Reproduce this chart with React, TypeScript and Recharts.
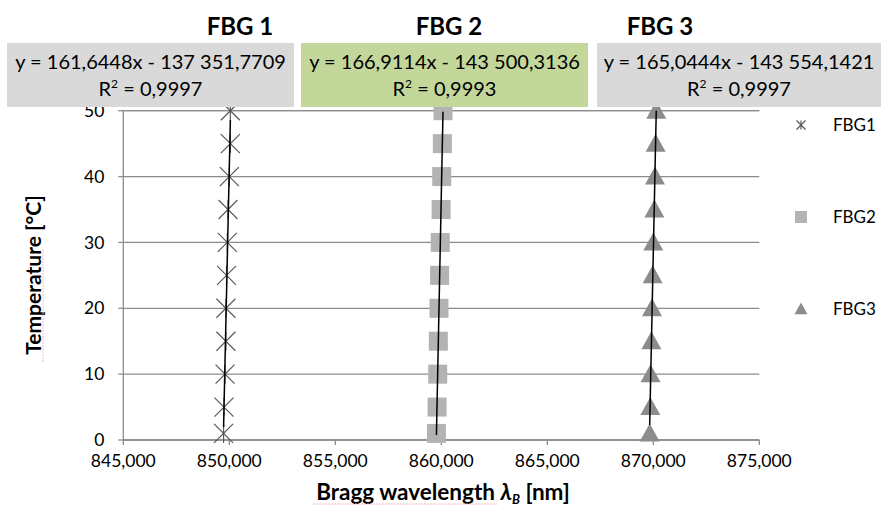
import { ScatterChart, Scatter, XAxis, YAxis, CartesianGrid } from "recharts"

// temperature steps [°C]
const temps = [1, 5, 10, 15, 20, 25, 30, 35, 40, 45, 50]
// Bragg wavelengths [nm]
const fbg1 = [849.73, 849.75, 849.8, 849.84, 849.84, 849.87, 849.905, 849.94, 850.0, 850.05, 850.05]
const fbg2 = [859.77, 859.8, 859.83, 859.86, 859.89, 859.92, 859.95, 859.99, 860.02, 860.05, 860.08]
const fbg3 = [869.83, 869.86, 869.87, 869.91, 869.94, 869.97, 870.0, 870.05, 870.08, 870.11, 870.14]

const xTicks = [845, 850, 855, 860, 865, 870, 875]
const yTicks = [0, 10, 20, 30, 40, 50]
const titles = ["FBG 1", "FBG 2", "FBG 3"]
const equations = ["y = 161,6448x - 137 351,7709", "y = 166,9114x - 143 500,3136", "y = 165,0444x - 143 554,1421"]
const r2 = ["0,9997", "0,9993", "0,9997"]

const FONT = "Lato, 'Open Sans', sans-serif"
const GRID = "#8c8c8c"

const toPoints = (ws: number[]) => ws.map((w, i) => ({ x: w, y: temps[i] }))

// linear least squares T = a*λ + b, drawn over the data's λ range (like an Excel trendline)
function trend(ws: number[]) {
  const n = ws.length
  const mx = ws.reduce((s, v) => s + v, 0) / n
  const my = temps.reduce((s, v) => s + v, 0) / n
  let sxy = 0, sxx = 0
  ws.forEach((w, i) => { sxy += (w - mx) * (temps[i] - my); sxx += (w - mx) ** 2 })
  const a = sxy / sxx
  const b = my - a * mx
  const lo = Math.min(...ws), hi = Math.max(...ws)
  return [{ x: lo, y: a * lo + b }, { x: hi, y: a * hi + b }]
}

const Star = ({ cx, cy, r = 9.5 }: any) => (
  <g stroke="#595959" strokeWidth={1.2}>
    <line x1={cx - r} y1={cy - r} x2={cx + r} y2={cy + r} />
    <line x1={cx - r} y1={cy + r} x2={cx + r} y2={cy - r} />
    <line x1={cx} y1={cy - r} x2={cx} y2={cy + r} />
  </g>
)
const Square = ({ cx, cy, r = 9.5 }: any) => <rect x={cx - r} y={cy - r} width={2 * r} height={2 * r} fill="#b3b3b3" />
const Tri = ({ cx, cy, r = 10 }: any) => (
  <path d={`M${cx},${cy - r} L${cx + r},${cy + r * 0.8} L${cx - r},${cy + r * 0.8} Z`} fill="#8c8c8c" />
)
const NoDot = () => <g />

const series = [
  { name: "FBG1", data: fbg1, shape: Star, legendR: 4.5 },
  { name: "FBG2", data: fbg2, shape: Square, legendR: 6 },
  { name: "FBG3", data: fbg3, shape: Tri, legendR: 6.5 },
]

export default function App() {
  const boxes = [
    { x: 7, w: 287, fill: "#d9d9d9", tx: 240 },
    { x: 301, w: 287, fill: "#c4d79b", tx: 449 },
    { x: 597, w: 284, fill: "#d9d9d9", tx: 660 },
  ]
  return (
    <div style={{ position: "fixed", left: 0, top: 0, width: 881, height: 507, background: "#fff" }}>
      <ScatterChart width={881} height={507} margin={{ top: 110.7, right: 121.7, bottom: 37, left: 0 }} style={{ fontFamily: FONT }}>
        <CartesianGrid vertical={false} stroke={GRID} strokeWidth={1.3} />
        <XAxis
          type="number"
          dataKey="x"
          domain={[845, 875]}
          ticks={xTicks}
          tickFormatter={(v: number) => v.toFixed(3).replace(".", ",")}
          height={30}
          tickSize={5}
          tickMargin={10}
          stroke={GRID}
          strokeWidth={1.3}
          tick={{ fill: "#000", fontSize: 17.5 }}
          allowDataOverflow
        />
        <YAxis
          type="number"
          dataKey="y"
          domain={[0, 50]}
          ticks={yTicks}
          width={123.3}
          tickSize={5}
          tickMargin={14}
          stroke={GRID}
          strokeWidth={1.3}
          tick={{ fill: "#000", fontSize: 17.5 }}
        />
        {series.map(s => (
          <Scatter key={s.name} name={s.name} data={toPoints(s.data)} shape={s.shape} isAnimationActive={false} />
        ))}
        {series.map(s => (
          <Scatter
            key={s.name + "-fit"}
            data={trend(s.data)}
            line={{ stroke: "#000", strokeWidth: 1.5 }}
            shape={NoDot}
            legendType="none"
            isAnimationActive={false}
          />
        ))}
      </ScatterChart>
      <svg width={881} height={507} style={{ position: "absolute", left: 0, top: 0, pointerEvents: "none", fontFamily: FONT }}>
        {boxes.map((b, i) => (
          <g key={i}>
            <text x={b.tx} y={35} textAnchor="middle" fontSize={24} fontWeight={700} fill="#000">{titles[i]}</text>
            <rect x={b.x} y={43} width={b.w} height={64} fill={b.fill} />
            <text x={b.x + b.w / 2} y={68.5} textAnchor="middle" fontSize={20} fill="#000">{equations[i]}</text>
            <text x={b.x + b.w / 2} y={96} textAnchor="middle" fontSize={20} fill="#000">
              R<tspan fontSize={12} dy={-8}>2</tspan><tspan dy={8}> = {r2[i]}</tspan>
            </text>
          </g>
        ))}
        {series.map((s, i) => {
          const y = 125 + i * 92
          const M = s.shape
          return (
            <g key={s.name}>
              <M cx={801} cy={y} r={s.legendR} />
              <text x={833} y={y + 6} fontSize={17} fill="#000">{s.name}</text>
            </g>
          )
        })}
        <text x={443} y={500} textAnchor="middle" fontSize={22.5} fontWeight={700} fill="#000">
          Bragg wavelength <tspan fontStyle="italic">λ</tspan><tspan fontStyle="italic" fontSize={13} dy={4}>B</tspan><tspan dy={-4}> [nm]</tspan>
        </text>
        <line x1={313} y1={504} x2={497} y2={504} stroke="#f2b8b8" strokeWidth={1} strokeDasharray="2 1" />
        <text x={0} y={0} transform="translate(41,275) rotate(-90)" textAnchor="middle" fontSize={21} fontWeight={700} fill="#000">
          Temperature [°C]
        </text>
        <line x1={43} y1={362} x2={43} y2={248} stroke="#f2b8b8" strokeWidth={1} strokeDasharray="2 1" />
      </svg>
    </div>
  )
}
